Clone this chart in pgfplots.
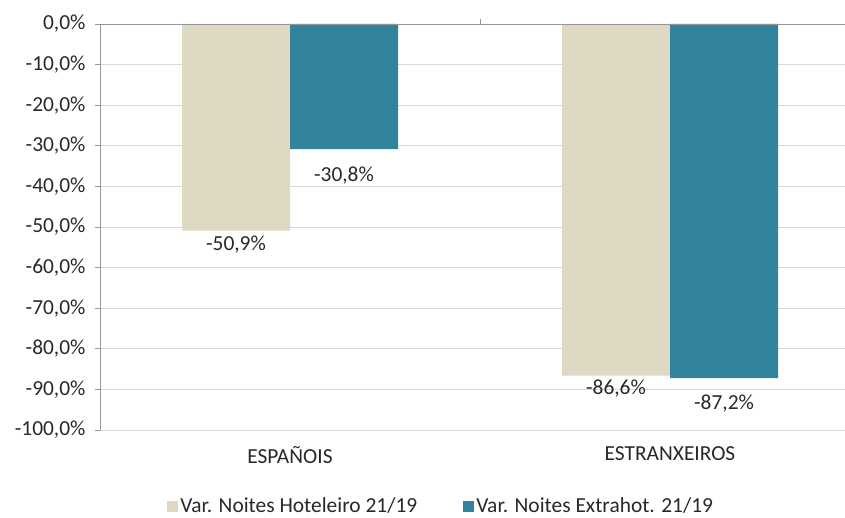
\documentclass[border=0pt]{standalone}
\usepackage{fontspec}
\setmainfont{Carlito}
\usepackage{pgfplots}
\pgfplotsset{compat=1.18}
\usepackage{pgfplotstable}
\definecolor{beige}{RGB}{221,217,195}
\definecolor{tealb}{RGB}{49,132,155}
\definecolor{gridc}{RGB}{217,217,217}
\definecolor{axc}{RGB}{150,150,150}
\definecolor{txt}{RGB}{40,40,40}
\pgfplotstableread{
x y off
0 -50.9 14
1 -86.6 13
}\hot
\pgfplotstableread{
x y off
0 -30.8 27
1 -87.2 26
}\extra
\begin{document}
\begin{tikzpicture}
\begin{axis}[
  at={(0,0)}, anchor=south west,
  scale only axis, width=745bp, height=406bp,
  font=\fontsize{21.5}{25}\selectfont,
  xmin=-0.5, xmax=1.4605, ymin=-100, ymax=0,
  ybar=0pt, bar width=108bp,
  axis line style={draw=none},
  xtick={0,1}, xticklabels={ESPAÑOIS,ESTRANXEIROS},
  x tick style={draw=none},
  xticklabel style={yshift=-8bp, txt},
  yticklabel style={xshift=-6bp, txt},
  ytick={-100,-90,...,0},
  ytick pos=left, tick align=outside,
  major tick length=5bp,
  y tick style={axc, line width=0.8bp},
  /pgf/number format/assume math mode=true,
  yticklabel={\pgfmathprintnumber[fixed,fixed zerofill,precision=1,use comma]{\tick}\%},
  ymajorgrids, grid style={gridc, line width=0.9bp},
  clip=false,
  nodes near coords={\pgfmathprintnumber[fixed,fixed zerofill,precision=1,use comma,assume math mode=true]{\pgfplotspointmeta}\%},
  point meta=y,
  visualization depends on={\thisrow{off} \as \labeloff},
  every node near coord/.append style={anchor=center, yshift=-\labeloff bp, font=\fontsize{21.5}{25}\selectfont, txt},
  legend style={at={(0.458,-0.187)}, anchor=center, draw=none, fill=none,
    legend columns=2, font=\fontsize{21.5}{25}\selectfont, text=txt,
    /tikz/every even column/.append style={column sep=44bp},
    inner sep=0pt, nodes={inner xsep=2bp, inner ysep=0bp}},
  legend image code/.code={\fill[#1] (-2bp,-6.5bp) rectangle (9bp,4.5bp);},
]
\addplot[fill=beige, draw=none] table[x=x,y=y] {\hot};
\addplot[fill=tealb, draw=none] table[x=x,y=y] {\extra};
\legend{Var. Noites Hoteleiro 21/19, Var. Noites Extrahot. 21/19}
\draw[axc, line width=0.8bp] (rel axis cs:0,0) -- (rel axis cs:0,1);
\draw[axc, line width=0.8bp] (axis cs:-0.5,0) -- (axis cs:1.4605,0);
\draw[axc, line width=0.8bp] (axis cs:0.5,0) -- ([yshift=5bp]axis cs:0.5,0);
\end{axis}
\pgfresetboundingbox
\path[use as bounding box] (-100bp,-88bp) rectangle (745bp,430bp);
\end{tikzpicture}
\end{document}
